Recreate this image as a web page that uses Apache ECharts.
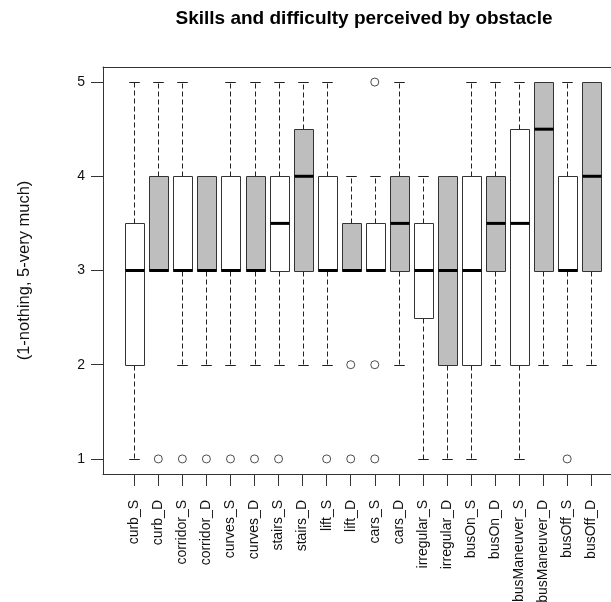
<!DOCTYPE html>
<html>
<head>
<meta charset="utf-8">
<script src="https://cdn.jsdelivr.net/npm/echarts@6/dist/echarts.min.js"></script>
<style>
  html, body { margin: 0; padding: 0; background: #fff; }
  #chart { width: 611px; height: 602px; }
</style>
</head>
<body>
<div id="chart"></div>
<script>
// Obstacles: "_S" = perceived skills, "_D" = perceived difficulty
const categories = [
  'curb_S', 'curb_D', 'corridor_S', 'corridor_D', 'curves_S', 'curves_D',
  'stairs_S', 'stairs_D', 'lift_S', 'lift_D', 'cars_S', 'cars_D',
  'irregular_S', 'irregular_D', 'busOn_S', 'busOn_D',
  'busManeuver_S', 'busManeuver_D', 'busOff_S', 'busOff_D'
];

// Five-number summaries per obstacle (whisker ends, quartiles, median)
const lowerWhisker = [1, 3, 2, 2, 2, 2, 2, 2, 2, 3, 3, 2, 1, 1, 1, 2, 1, 2, 2, 2];
const lowerQuartile = [2, 3, 3, 3, 3, 3, 3, 3, 3, 3, 3, 3, 2.5, 2, 2, 3, 2, 3, 3, 3];
const medians = [3, 3, 3, 3, 3, 3, 3.5, 4, 3, 3, 3, 3.5, 3, 3, 3, 3.5, 3.5, 4.5, 3, 4];
const upperQuartile = [3.5, 4, 4, 4, 4, 4, 4, 4.5, 4, 3.5, 3.5, 4, 3.5, 4, 4, 4, 4.5, 5, 4, 5];
const upperWhisker = [5, 5, 5, 4, 5, 5, 5, 5, 5, 4, 4, 5, 4, 4, 5, 5, 5, 5, 5, 5];

// Outlying answers: [obstacle, value]
const outliers = [
  ['curb_D', 1], ['corridor_S', 1], ['corridor_D', 1], ['curves_S', 1],
  ['curves_D', 1], ['stairs_S', 1], ['lift_S', 1],
  ['lift_D', 2], ['lift_D', 1],
  ['cars_S', 5], ['cars_S', 2], ['cars_S', 1],
  ['busOff_S', 1]
];

const yTicks = [1, 2, 3, 4, 5];

const BOX_WIDTH = 0.8;
const CAP_WIDTH = 0.44;
const INK = '#222';
const FRAME = '#333';
const GRAY_FILL = '#bebebe';
const FONT = 'Liberation Sans, Arial, sans-serif';

const boxData = categories.map((name, i) => [
  i + 1, lowerWhisker[i], lowerQuartile[i], medians[i], upperQuartile[i], upperWhisker[i]
]);
const outlierData = outliers.map(([name, v]) => [categories.indexOf(name) + 1, v]);
const positions = categories.map((_, i) => i + 1);

function crisp(v) { return Math.round(v) + 0.5; }

function renderBox(params, api) {
  const x = api.value(0);
  const idx = x - 1;
  const cx = crisp(api.coord([x, 0])[0]);
  const half = api.size([BOX_WIDTH, 0])[0] / 2;
  const capHalf = api.size([CAP_WIDTH, 0])[0] / 2;
  const yLo = crisp(api.coord([x, api.value(1)])[1]);
  const yQ1 = crisp(api.coord([x, api.value(2)])[1]);
  const yMed = api.coord([x, api.value(3)])[1];
  const yQ3 = crisp(api.coord([x, api.value(4)])[1]);
  const yHi = crisp(api.coord([x, api.value(5)])[1]);
  const left = Math.round(cx - half) + 0.5;
  const right = Math.round(cx + half) + 0.5;

  const children = [];
  const dashed = { stroke: INK, lineWidth: 1, lineDash: [5, 3] };
  const solid = { stroke: INK, lineWidth: 1 };

  if (api.value(1) < api.value(2)) {
    children.push({ type: 'line', shape: { x1: cx, y1: yQ1, x2: cx, y2: yLo }, style: dashed });
    children.push({ type: 'line', shape: { x1: cx - capHalf, y1: yLo, x2: cx + capHalf, y2: yLo }, style: solid });
  }
  if (api.value(5) > api.value(4)) {
    children.push({ type: 'line', shape: { x1: cx, y1: yQ3, x2: cx, y2: yHi }, style: dashed });
    children.push({ type: 'line', shape: { x1: cx - capHalf, y1: yHi, x2: cx + capHalf, y2: yHi }, style: solid });
  }
  children.push({
    type: 'rect',
    shape: { x: left, y: yQ3, width: right - left, height: yQ1 - yQ3 },
    style: { fill: idx % 2 === 1 ? GRAY_FILL : '#ffffff', stroke: FRAME, lineWidth: 1 }
  });
  children.push({
    type: 'line',
    shape: { x1: left, y1: yMed, x2: right, y2: yMed },
    style: { stroke: '#000', lineWidth: 3 }
  });
  return { type: 'group', children };
}

// Plain axis used for the two frame sides that carry no ticks
function frameAxis(position, min, max) {
  return {
    type: 'value',
    position: position,
    min: min,
    max: max,
    axisLine: { show: true, onZero: false, lineStyle: { color: FRAME, width: 1 } },
    axisTick: { show: false },
    axisLabel: { show: false },
    splitLine: { show: false }
  };
}

const chart = echarts.init(document.getElementById('chart'), null, { renderer: 'canvas' });

chart.setOption({
  animation: false,
  backgroundColor: '#ffffff',
  title: {
    text: 'Skills and difficulty perceived by obstacle',
    left: 359,
    top: 4,
    textAlign: 'center',
    textStyle: {
      fontFamily: FONT,
      fontWeight: 'bold',
      fontSize: 19,
      color: '#000'
    }
  },
  grid: {
    left: 103,
    top: 67,
    width: 519.5,
    height: 407,
    show: false,
    outerBoundsMode: 'none',
    containLabel: false
  },
  xAxis: [
    {
      type: 'value',
      position: 'bottom',
      min: -0.3,
      max: 21.3,
      axisLine: { show: true, onZero: false, lineStyle: { color: FRAME, width: 1 } },
      splitLine: { show: false },
      axisTick: {
        show: true,
        customValues: positions,
        length: 12,
        lineStyle: { color: FRAME, width: 1 }
      },
      axisLabel: {
        show: true,
        customValues: positions,
        rotate: 90,
        margin: 26,
        fontFamily: FONT,
        fontSize: 14,
        color: '#111',
        formatter: (v) => categories[Math.round(v) - 1] || ''
      }
    },
    frameAxis('top', -0.3, 21.3)
  ],
  yAxis: [
    {
      type: 'value',
      position: 'left',
      min: 0.84,
      max: 5.16,
      name: '(1-nothing, 5-very much)',
      nameLocation: 'middle',
      nameRotate: 90,
      nameGap: 70,
      nameTextStyle: {
        fontFamily: FONT,
        fontSize: 16.5,
        color: '#111'
      },
      axisLine: { show: true, onZero: false, lineStyle: { color: FRAME, width: 1 } },
      splitLine: { show: false },
      axisTick: {
        show: true,
        customValues: yTicks,
        length: 12,
        lineStyle: { color: FRAME, width: 1 }
      },
      axisLabel: {
        show: true,
        customValues: yTicks,
        margin: 18,
        fontFamily: FONT,
        fontSize: 14,
        color: '#111'
      }
    },
    frameAxis('right', 0.84, 5.16)
  ],
  series: [
    {
      type: 'custom',
      renderItem: renderBox,
      data: boxData,
      encode: { x: 0, y: [1, 2, 3, 4, 5] },
      clip: false,
      z: 2
    },
    {
      type: 'scatter',
      data: outlierData,
      symbol: 'circle',
      symbolSize: 8,
      itemStyle: { color: '#ffffff', borderColor: INK, borderWidth: 1 },
      z: 3
    }
  ]
});
</script>
</body>
</html>
